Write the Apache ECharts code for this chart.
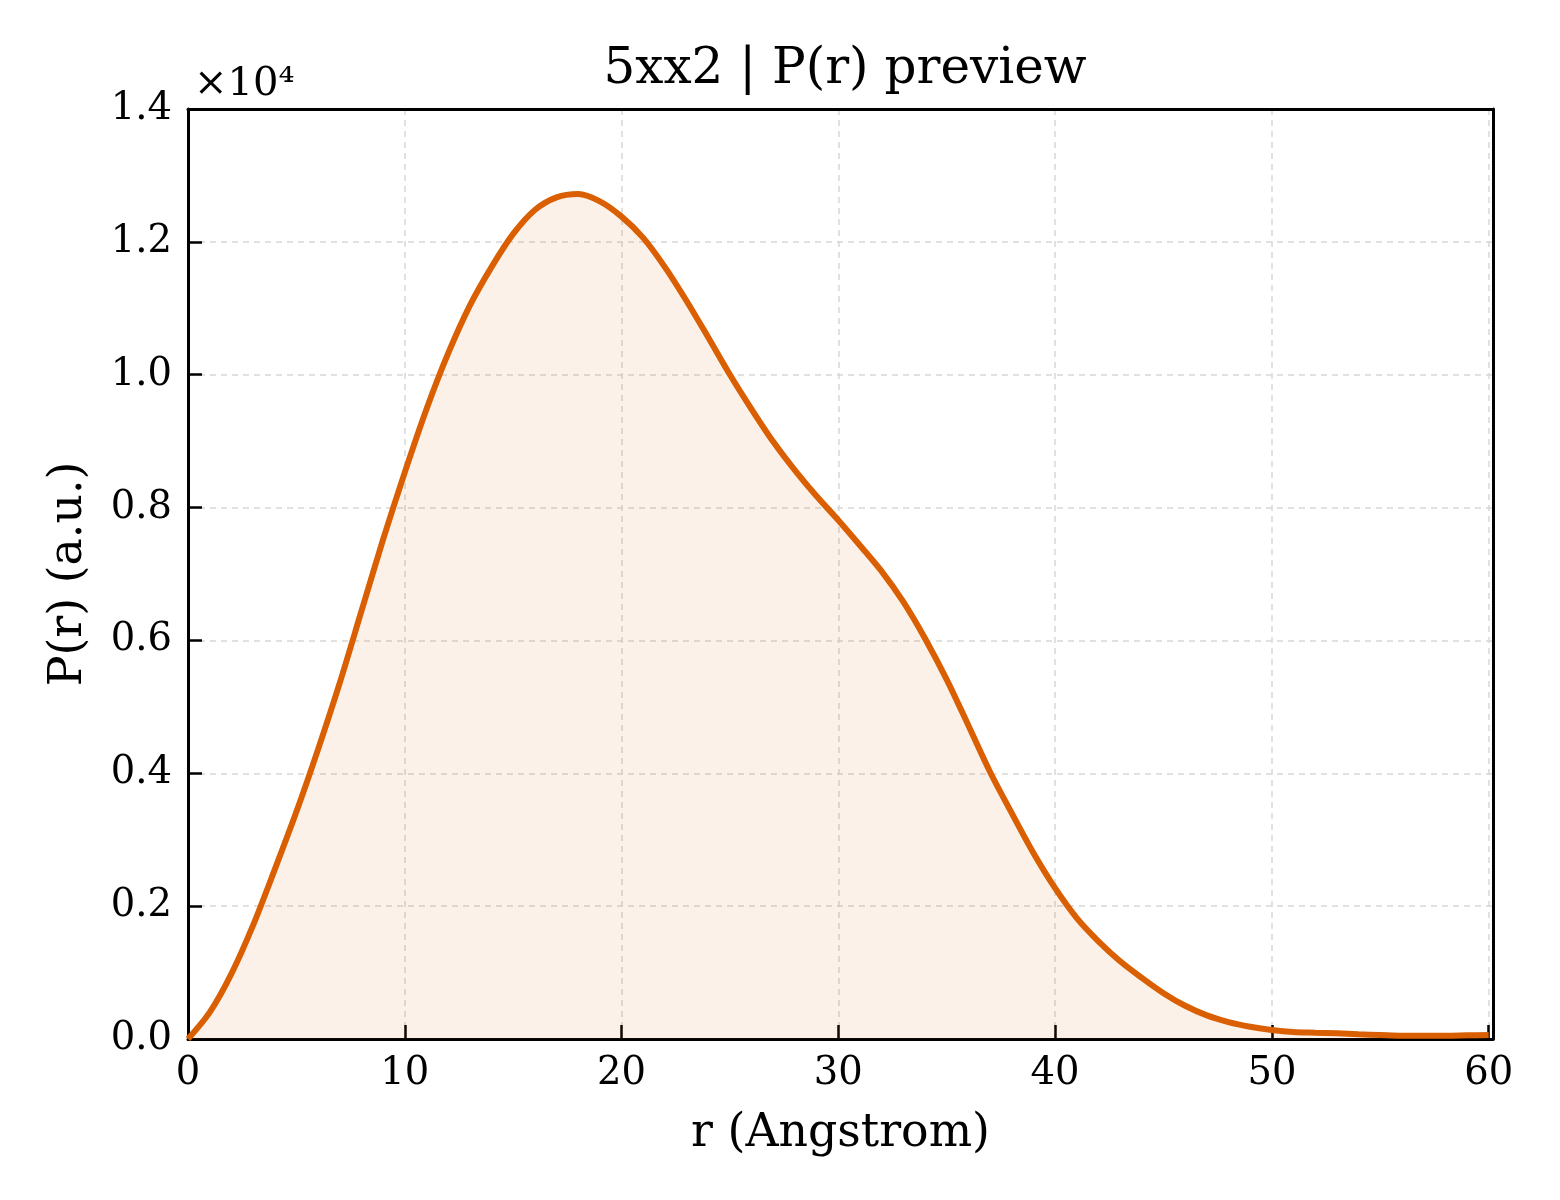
<!DOCTYPE html>
<html>
<head>
<meta charset="utf-8">
<script src="https://cdn.jsdelivr.net/npm/echarts@6/dist/echarts.min.js"></script>
<style>
  html, body { margin: 0; padding: 0; background: #fff; }
  #main { width: 1560px; height: 1200px; }
</style>
</head>
<body>
<div id="main"></div>
<script>
// r in Angstrom, P(r) in arbitrary units
var rValues = [0, 1, 2, 3, 4, 5, 6, 7, 8, 9, 10, 11, 12, 13, 14, 15, 16, 17, 18, 19, 20,
    21, 22, 23, 24, 25, 26, 27, 28, 29, 30, 31, 32, 33, 34, 35, 36, 37, 38, 39, 40,
    41, 42, 43, 44, 45, 46, 47, 48, 49, 50, 51, 52, 53, 54, 55, 56, 57, 58, 59, 60];
var prValues = [0, 400, 980, 1710, 2550, 3420, 4360, 5360, 6440, 7520, 8530,
    9480, 10320, 11040, 11620, 12120, 12480, 12670, 12720, 12610, 12380,
    12060, 11620, 11110, 10560, 10000, 9480, 8990, 8560, 8170, 7810,
    7430, 7040, 6580, 6030, 5410, 4720, 4020, 3400, 2800, 2270,
    1820, 1470, 1170, 920, 690, 500, 355, 255, 185, 135,
    105, 95, 85, 70, 60, 50, 50, 50, 55, 60];
var yTickStep = 2000;
var xTickStep = 10;

var chartTitle = '5xx2 | P(r) preview';
var xName = 'r (Angstrom)';
var yName = 'P(r) (a.u.)';
var scaleText = '\u00d710\u2074';

var seriesData = rValues.map(function (r, i) { return [r, prValues[i]]; });

var myChart = echarts.init(document.getElementById('main'));
var serif = 'DejaVu Serif';
var tickStyle = { show: true, inside: true, length: 14, lineStyle: { color: '#000', width: 2.5 } };
var gridLine = { show: true, lineStyle: { color: '#d8d8d8', width: 1.5, type: [6, 5] } };
var spine = { show: true, onZero: false, lineStyle: { color: '#000', width: 3 } };
var option = {
    backgroundColor: '#ffffff',
    animation: false,
    title: [{
        text: chartTitle,
        left: 840,
        textAlign: 'center',
        top: 40,
        textStyle: { fontFamily: serif, fontSize: 50, fontWeight: 'normal', color: '#000' }
    }, {
        text: scaleText,
        left: 189,
        top: 60,
        textStyle: { fontFamily: serif, fontSize: 40, fontWeight: 'normal', color: '#000' }
    }],
    grid: {
        left: 188,
        right: 67,
        top: 109,
        bottom: 161
    },
    xAxis: [{
        type: 'value',
        min: 0,
        max: 60.2,
        interval: xTickStep,
        name: xName,
        nameLocation: 'middle',
        nameGap: 72,
        nameTextStyle: { fontFamily: serif, fontSize: 45.8, color: '#000' },
        axisLine: spine,
        axisTick: tickStyle,
        axisLabel: {
            fontFamily: serif, fontSize: 38.5, color: '#000', margin: 15,
            showMaxLabel: false,
            formatter: function (v) { return String(Math.round(v)); }
        },
        splitLine: gridLine
    }, {
        type: 'value',
        position: 'top',
        min: 0,
        max: 60.2,
        axisLine: spine,
        axisTick: { show: false },
        axisLabel: { show: false },
        splitLine: { show: false }
    }],
    yAxis: [{
        type: 'value',
        min: 0,
        max: 14000,
        interval: yTickStep,
        name: yName,
        nameLocation: 'middle',
        nameGap: 96,
        nameTextStyle: { fontFamily: serif, fontSize: 45.8, color: '#000' },
        axisLine: spine,
        axisTick: tickStyle,
        axisLabel: {
            fontFamily: serif, fontSize: 38.5, color: '#000', margin: 16,
            formatter: function (v) { return (v / 1e4).toFixed(1); }
        },
        splitLine: gridLine
    }, {
        type: 'value',
        position: 'right',
        min: 0,
        max: 14000,
        axisLine: spine,
        axisTick: { show: false },
        axisLabel: { show: false },
        splitLine: { show: false }
    }],
    series: [{
        name: 'P(r)',
        type: 'line',
        xAxisIndex: 0,
        yAxisIndex: 0,
        data: seriesData,
        smooth: 0.3,
        showSymbol: false,
        lineStyle: { color: '#D95F02', width: 6 },
        itemStyle: { color: '#D95F02' },
        areaStyle: { color: 'rgba(217,95,2,0.13)' }
    }]
};
myChart.setOption(option, true);
</script>
</body>
</html>
